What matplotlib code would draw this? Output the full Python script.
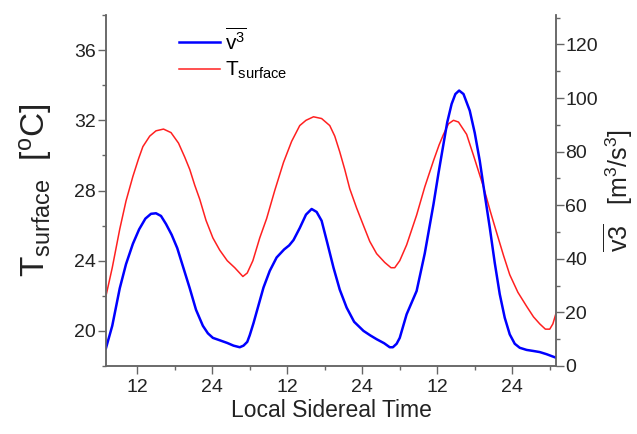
import matplotlib
matplotlib.use("Agg")
import matplotlib.pyplot as plt
from matplotlib.ticker import MultipleLocator, FixedLocator

plt.rcParams['font.family'] = ['Liberation Sans', 'DejaVu Sans']
plt.rcParams['mathtext.fontset'] = 'custom'
plt.rcParams['mathtext.rm'] = 'Liberation Sans'
plt.rcParams['mathtext.it'] = 'Liberation Sans:italic'

# local sidereal time (continuous hours over three days), surface temperature [C]
t_time = [7.0, 8.0, 9.2, 10.2, 11.3, 12.2, 12.9, 14.0, 15.0, 16.2, 17.4, 18.6, 19.6,
          20.4, 21.2, 22.0, 23.0, 24.1, 25.2, 26.4, 27.6, 28.9, 29.6, 30.5, 31.6,
          32.7, 34.0, 35.4, 36.7, 38.0, 39.0, 40.2, 41.5, 42.8, 43.6, 44.4, 45.2,
          46.0, 47.1, 48.2, 49.2, 50.3, 51.6, 52.6, 53.2, 54.0, 55.1, 56.7, 58.0,
          59.4, 60.3, 61.0, 61.8, 62.6, 63.4, 64.7, 65.8, 67.4, 68.5, 69.5, 70.6,
          71.6, 72.9, 74.3, 75.4, 76.4, 77.3, 78.0, 78.5, 79.0]
t_surface = [22.0, 23.6, 25.8, 27.4, 28.8, 29.8, 30.5, 31.1, 31.4, 31.5, 31.3, 30.7, 29.9,
             29.2, 28.3, 27.5, 26.3, 25.3, 24.6, 24.0, 23.6, 23.1, 23.3, 24.0, 25.3,
             26.4, 28.0, 29.6, 30.8, 31.7, 32.0, 32.2, 32.1, 31.7, 31.1, 30.2, 29.2,
             28.1, 27.0, 26.0, 25.1, 24.4, 23.9, 23.6, 23.6, 24.0, 24.9, 26.6, 28.2,
             29.7, 30.6, 31.2, 31.8, 32.0, 31.9, 31.2, 30.0, 28.2, 26.8, 25.6, 24.3,
             23.2, 22.2, 21.4, 20.8, 20.4, 20.1, 20.1, 20.4, 21.0]

# mean cube of wind speed [m3/s3]
v_time = [7.0, 8.0, 9.2, 10.2, 11.3, 12.3, 13.3, 14.2, 15.0, 15.8, 16.6, 17.5, 18.4,
          19.4, 20.4, 21.4, 22.5, 23.3, 24.1, 25.2, 26.4, 27.4, 28.4, 29.0, 29.6,
          30.0, 30.6, 31.2, 32.2, 33.2, 34.3, 35.5, 36.3, 37.0, 38.0, 39.0, 39.9, 40.7,
          41.5, 42.4, 43.4, 44.4, 45.5, 46.7, 48.2, 49.3, 50.3, 51.5, 52.4, 52.9,
          53.5, 54.0, 55.1, 56.7, 58.0, 59.4, 60.2, 61.0, 61.6, 62.3, 62.9, 63.5,
          64.2, 65.2, 66.0, 66.8, 67.6, 68.4, 69.2, 70.0, 70.8, 71.6, 72.4, 73.2,
          74.3, 75.4, 76.4, 77.5, 78.3, 79.0]
v_cube = [6.7, 15.0, 29.0, 38.0, 45.6, 51.0, 55.0, 56.8, 57.0, 56.0, 53.0, 49.0, 44.0,
          36.5, 29.0, 21.0, 15.0, 12.2, 10.5, 9.6, 8.6, 7.6, 7.0, 7.6, 9.0,
          11.5, 16.0, 21.0, 29.3, 35.5, 40.5, 43.5, 45.0, 47.0, 51.5, 56.5, 58.6, 57.5,
          54.2, 46.0, 36.7, 28.5, 21.8, 16.5, 13.1, 11.4, 10.0, 8.5, 7.0, 7.0,
          8.3, 10.5, 19.3, 28.0, 42.0, 60.4, 72.0, 82.9, 91.0, 97.8, 101.5, 102.8,
          101.5, 95.3, 87.0, 76.6, 64.0, 51.7, 38.5, 26.8, 18.0, 11.8, 8.3, 6.8,
          6.0, 5.6, 5.2, 4.4, 3.7, 3.1]

x_ticks = [12, 24, 36, 48, 60, 72]
x_ticklabels = ["12", "24", "12", "24", "12", "24"]

fig = plt.figure(figsize=(6.37, 4.34), dpi=100)
ax = fig.add_axes([106/637, 68/434, 450/637, 351/434])
ax2 = ax.twinx()

l_t, = ax.plot(t_time, t_surface, color='#ff2020', lw=1.1, solid_joinstyle='round',
               label=r'T$_{\mathrm{surface}}$')
l_v, = ax2.plot(v_time, v_cube, color='#0000ff', lw=1.8, solid_joinstyle='round',
                label=r'$\overline{\mathrm{v}^3}$')

ax.set_xlim(7, 79)
ax.set_ylim(18, 38)
ax2.set_ylim(0, 131)

ax.xaxis.set_major_locator(FixedLocator(x_ticks))
ax.set_xticklabels(x_ticklabels)
ax.xaxis.set_minor_locator(MultipleLocator(6))
ax.yaxis.set_major_locator(MultipleLocator(4))
ax.yaxis.set_minor_locator(MultipleLocator(2))
ax2.yaxis.set_major_locator(MultipleLocator(20))
ax2.yaxis.set_minor_locator(MultipleLocator(10))

spine_col = '#666666'
for a in (ax, ax2):
    a.spines['top'].set_visible(False)
    for s in a.spines.values():
        s.set_color(spine_col)
        s.set_linewidth(1.1)
    a.tick_params(which='major', length=5.5, width=1.0, color=spine_col,
                  labelsize=14, labelcolor='#222222')
    a.tick_params(which='minor', length=3, width=1.0, color=spine_col)
ax.tick_params(axis='y', pad=2)
ax.tick_params(axis='x', pad=4)
ax2.tick_params(axis='y', pad=1)

ax.set_xlabel('Local Sidereal Time', fontsize=16.5, color='#222222', labelpad=2)
ax.set_ylabel(r'T$_{\mathrm{surface}}$  [$^{\mathrm{o}}$C]', fontsize=24, color='#222222', labelpad=14)
ax2.set_ylabel(r'$\overline{\mathrm{v3}}$   [m$^3$/s$^3$]', fontsize=18, color='#222222', labelpad=3)

ax2.legend([l_v, l_t], [l_v.get_label(), l_t.get_label()], loc='upper left',
           bbox_to_anchor=(0.12, 1.02), frameon=False, fontsize=15,
           handlelength=2.0, handletextpad=0.2, labelspacing=0.3)

fig.savefig('out.png', dpi=100)
